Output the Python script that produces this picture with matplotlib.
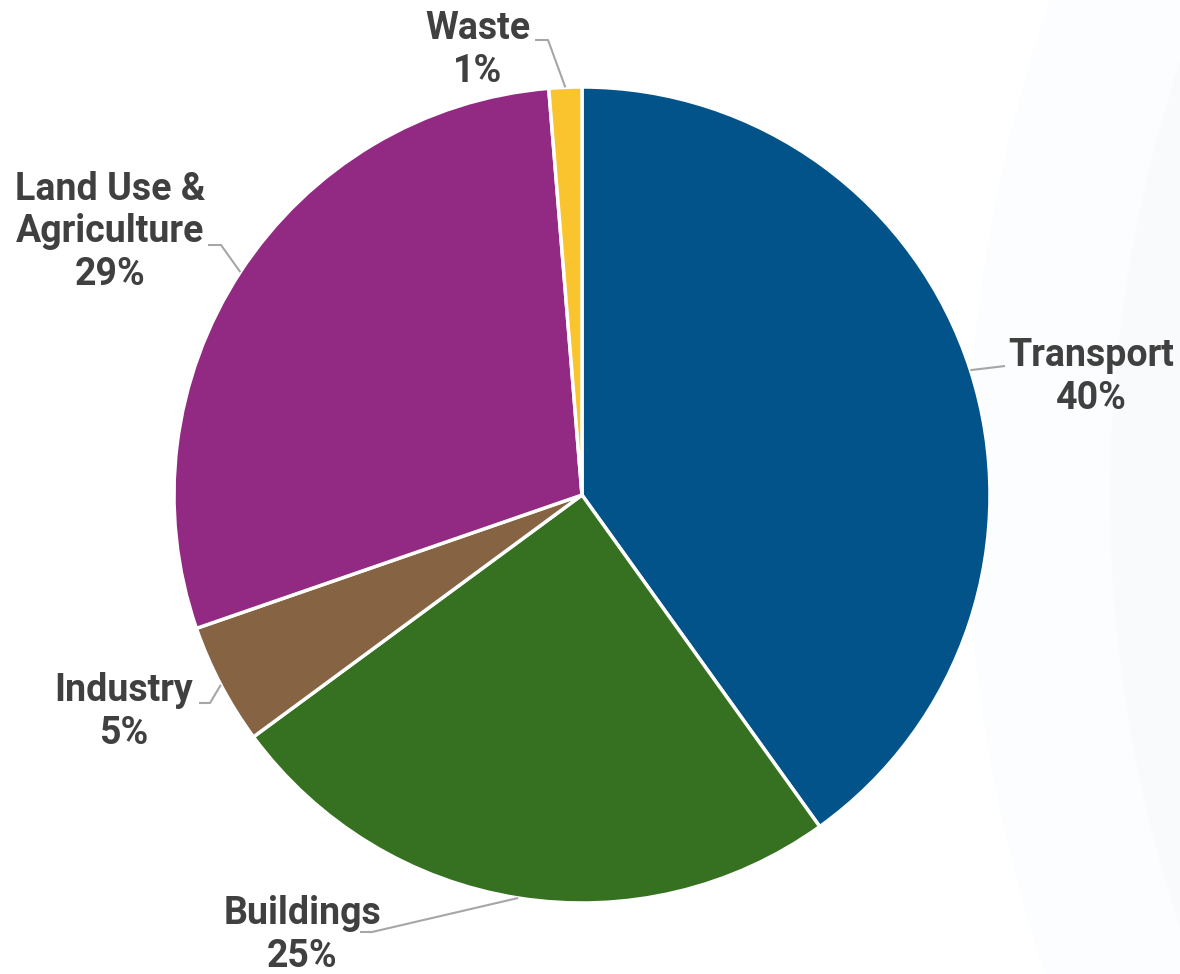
import matplotlib.pyplot as plt
from matplotlib.patches import Circle
import numpy as np

# sector shares (%), clockwise from 12 o'clock
sectors = ["Transport", "Buildings", "Industry", "Land Use &\nAgriculture", "Waste"]
shares = [40.1, 24.8, 4.8, 29.0, 1.3]
pct_labels = ["40%", "25%", "5%", "29%", "1%"]
colors = ["#02538A", "#357121", "#866342", "#922A83", "#FAC42E"]

W, H = 1180, 974
CX, CY, R = 582, 495, 408


def px(x, y):
    """pixel position (top-left origin) -> data coords where the pie has radius 1"""
    return (x - CX) / R, (CY - y) / R


# label layout in pixels: text centre, leader elbow points
label_pos = [(1091, 377), (302, 935), (124, 712), (110, 232), (478, 50)]
leader_pts = [
    [(1005, 366)],
    [(372, 932), (360, 932)],
    [(210, 703), (199, 703)],
    [(221, 245), (208, 245)],
    [(548, 40), (535, 40)],
]

fig = plt.figure(figsize=(W / 100, H / 100), dpi=100)
ax = fig.add_axes([0, 0, 1, 1])

# faint background rings on the right
for rad, col in [(1517, "#FCFDFE"), (1374, "#F8FAFC")]:
    ax.add_patch(Circle(px(2484, 495), rad / R, color=col, zorder=0, lw=0))

wedges, _ = ax.pie(shares, colors=colors, startangle=90, counterclock=False,
                   radius=1, center=(0, 0), frame=True,
                   wedgeprops=dict(edgecolor="white", linewidth=2.5))
ax.set_xlim(-CX / R, (W - CX) / R)
ax.set_ylim(-(H - CY) / R, CY / R)
ax.set_aspect("equal")
ax.axis("off")

for w, name, pct, pos, pts in zip(wedges, sectors, pct_labels, label_pos, leader_pts):
    mid = np.deg2rad((w.theta1 + w.theta2) / 2)
    xs = [np.cos(mid)] + [px(*p)[0] for p in pts]
    ys = [np.sin(mid)] + [px(*p)[1] for p in pts]
    ax.plot(xs, ys, color="#A6A6A6", lw=1.5, zorder=3, solid_capstyle="butt")
    tx, ty = px(*pos)
    ax.text(tx, ty, f"{name}\n{pct}", ha="center", va="center",
            fontsize=27, fontweight="bold", family="Roboto",
            color="#404040", linespacing=1.2, zorder=4)

fig.savefig("out.png", dpi=100)
